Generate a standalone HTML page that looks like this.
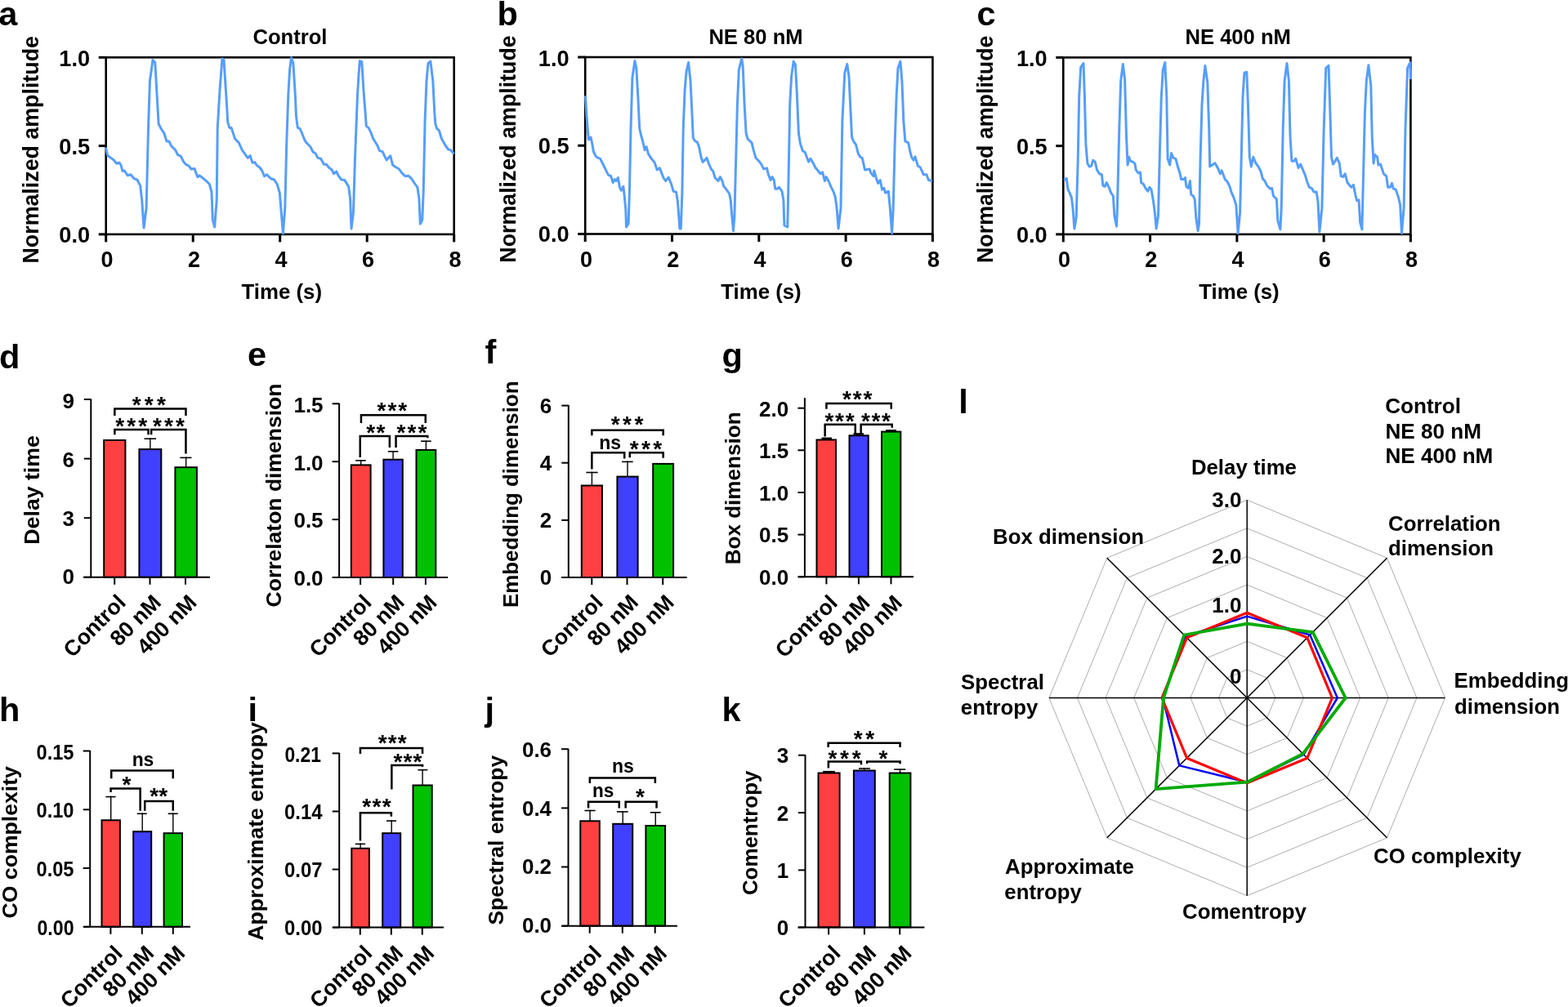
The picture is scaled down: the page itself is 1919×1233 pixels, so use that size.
<!DOCTYPE html>
<html><head><meta charset="utf-8"><title>Figure</title>
<style>html,body{margin:0;padding:0;background:#fff;overflow:hidden}svg{display:block}text{font-family:"Liberation Sans",sans-serif;font-weight:bold}</style>
</head><body>
<svg width="1919" height="1233" viewBox="0 0 1919 1233" font-family="'Liberation Sans', sans-serif" font-weight="bold" fill="#000">
<rect width="1919" height="1233" fill="#fff"/>
<text x="-1.7" y="31.4" font-size="41.5">a</text>
<text x="608.4" y="31" font-size="41.5">b</text>
<text x="1195.5" y="31.3" font-size="41.5">c</text>
<text x="-1.1" y="450.7" font-size="41.5">d</text>
<text x="303" y="447.9" font-size="41.5">e</text>
<text x="593.4" y="444.8" font-size="41.5">f</text>
<text x="883.6" y="449.1" font-size="41.5">g</text>
<text x="-1.1" y="882.7" font-size="41.5">h</text>
<text x="303.5" y="882.8" font-size="41.5">i</text>
<text x="593.4" y="882.6" font-size="41.5">j</text>
<text x="883.4" y="882.5" font-size="41.5">k</text>
<text x="1173.2" y="505.7" font-size="41.5">l</text>
<rect x="129.7" y="70.3" width="426" height="216.6" fill="none" stroke="#000" stroke-width="2.6"/>
<polyline points="129.3,180.7 131.8,190.5 135.7,193.4 139.6,196.3 142.5,200.2 146,199.2 148,202 149.9,209.5 152.3,209 156.2,214.8 160,213.8 164,218.7 167.8,220 171.7,227.4 173.7,245 176,279 179.1,254.7 181.5,157.4 183.4,98.9 185.4,85.3 186.9,73.6 189.8,76.5 192.2,118.4 194.1,151.5 197,157.4 200.9,163.2 203.9,172.9 206.8,172.9 209.7,178.8 214.6,183.6 217.5,189.5 221.4,191.4 224.3,197.3 227.2,201.2 231.1,203.1 234,207 237.9,206.4 241.8,216.7 244.2,214.8 247.7,217.7 252.5,221.6 256.4,225.5 259,235.2 260.3,269.3 262.7,278 265.2,245 266.2,157.4 269.1,108.7 272,71.7 274,73.6 276.9,118.4 278.8,149.6 280.8,156.4 283.1,156.4 287.6,170 292.4,174.9 296.3,183.6 303.2,193.4 306.1,190.5 309,199.2 311.9,198.6 313.9,202.1 317.8,205 320.7,209 323.6,215.8 326.5,213.8 331.4,218.7 335.3,219.7 339.2,225.5 342.3,236.2 346.4,285.9 348.8,254.7 350.7,176.8 352.7,118.4 354.6,85.3 356.5,70.7 358.9,77.5 361.4,118.4 362.4,141.8 364.3,156.4 366.9,157.4 369.2,162.2 373.1,172 376,175.8 379.9,179.7 383.2,186.2 385.8,187.5 389.1,193.4 392.6,194.3 396.5,201.2 399.4,201.2 402.3,205 406.2,208 408.5,212.8 411.7,209.9 414,214.8 417.9,220 421.8,220.6 426.6,228.4 428.6,243 430,280 432.5,259.6 434.4,196.3 437.4,118.4 438.9,93.1 440.3,74.6 442.8,75.6 445.1,112.6 447.1,137.9 448.3,154.4 451,156.4 453.9,162.2 456.8,170 461.7,177.8 464.6,184.6 468.1,185.6 473,195.9 477.8,190.8 480.6,202.1 484.1,204.5 488.4,207 491.9,211.9 495.8,215.8 499.7,215.2 503.5,218.7 507.4,224.5 510.9,229.4 512.9,243 514.3,274.2 516.8,269.3 518.2,235.2 520.1,147.6 522,98.9 524,77.5 526.9,75.2 529.8,98.9 531.8,137.9 532.8,151.5 534.7,157.4 537.6,160.3 540.5,170 544.4,176.8 548.3,182.7 551.3,183.6 555.7,188.5" fill="none" stroke="#569EFA" stroke-width="3" stroke-linejoin="round"/>
<line x1="120.7" y1="286.9" x2="129.7" y2="286.9" stroke="#000" stroke-width="3"/>
<text x="110.1" y="296.5" font-size="27.2" text-anchor="end">0.0</text>
<line x1="120.7" y1="178.6" x2="129.7" y2="178.6" stroke="#000" stroke-width="3"/>
<text x="110.1" y="188.7" font-size="27.2" text-anchor="end">0.5</text>
<line x1="120.7" y1="70.3" x2="129.7" y2="70.3" stroke="#000" stroke-width="3"/>
<text x="110.1" y="80.9" font-size="27.2" text-anchor="end">1.0</text>
<line x1="129.7" y1="286.9" x2="129.7" y2="296.4" stroke="#000" stroke-width="3"/>
<text x="130.9" y="327.1" font-size="27" text-anchor="middle">0</text>
<line x1="236.2" y1="286.9" x2="236.2" y2="296.4" stroke="#000" stroke-width="3"/>
<text x="237.4" y="327.1" font-size="27" text-anchor="middle">2</text>
<line x1="342.7" y1="286.9" x2="342.7" y2="296.4" stroke="#000" stroke-width="3"/>
<text x="343.9" y="327.1" font-size="27" text-anchor="middle">4</text>
<line x1="449.2" y1="286.9" x2="449.2" y2="296.4" stroke="#000" stroke-width="3"/>
<text x="450.4" y="327.1" font-size="27" text-anchor="middle">6</text>
<line x1="555.7" y1="286.9" x2="555.7" y2="296.4" stroke="#000" stroke-width="3"/>
<text x="556.9" y="327.1" font-size="27" text-anchor="middle">8</text>
<text x="355" y="54.3" font-size="25.6" text-anchor="middle">Control</text>
<text x="344.8" y="366" font-size="25.8" text-anchor="middle">Time (s)</text>
<text transform="translate(47 183.3) rotate(-90)" font-size="26.8" text-anchor="middle">Normalized amplitude</text>
<rect x="716.2" y="70" width="425.2" height="216.5" fill="none" stroke="#000" stroke-width="2.6"/>
<polyline points="716.5,117.4 717.9,141.7 719.5,161.2 720.4,170.9 723,168 724.9,176.8 726.3,185.5 729.2,191.4 731.1,192.9 734.6,194.3 738.9,203 741.8,208.9 744.4,214.1 747.7,215.7 750.2,223.5 752.2,219.6 754.1,221.5 756.4,217.6 758.4,229.3 760.3,233.2 762.9,228.3 764.2,240 765.8,256.5 766.5,277.9 769.1,274 770.4,235.1 772,157.3 773.9,95 776.9,74.6 778.8,83.4 780.8,118.4 782.7,157.3 784.6,166 786.6,172.9 789.1,183.6 791.1,179.7 793.4,188.4 797.3,194.3 801.2,199.1 804.1,207.9 807.4,205.9 811.9,217.6 814.8,221.5 818.1,217.2 821.6,225.4 824.1,234.2 827.5,235.1 829.4,246.8 831.9,279.9 833.3,279.9 834.9,235.1 836.2,157.3 838.2,108.6 840.1,87.2 842.6,76.5 845,98.9 846.9,137.8 848.3,169 850.8,172.9 853.3,173.8 855.7,180.6 858,192.3 860,198.5 862.5,196.2 865,193.3 867.3,200.1 870.3,206.9 872.8,209.8 875.1,217.6 879,221.5 881.4,216.6 883.9,221.5 885.8,228.3 887.8,230.3 889.7,233.2 892.6,237.1 894.2,244.9 895.6,262.4 897.5,282.8 898.9,264.3 900.4,205.9 902.4,128.1 904.3,85.3 907.8,71.7 909.2,81.4 911.1,128.1 913.1,163.1 915,170 918,172.9 920,174.8 921.9,182.6 924.9,193.3 928.8,197.2 931.7,201.1 934.6,206.9 938.5,205.9 940.4,213.7 943,220.5 944.9,216.6 947.2,220.5 948.8,231.2 951.1,231.2 953.5,229.3 957,234.2 958.9,244.9 959.9,276 963.8,277.9 965.1,215.7 966.7,128.1 968.6,93.1 971.2,75.2 973.5,79.5 975.5,118.4 977.4,163.1 979.4,175.8 982.3,184.5 985.2,186.5 988.1,194.3 989.7,198.2 992,194.3 995.9,201.1 997.8,205 1001.7,209.8 1004.1,212.8 1006.6,210.8 1009.5,221.5 1011.1,216.6 1014.4,222.5 1017.3,229.3 1020.2,235.1 1022.2,241 1024.1,254.6 1026.1,279.9 1029,254.6 1030.9,147.6 1033.8,89.2 1036.8,78.5 1039.1,95 1040.6,128.1 1042.6,168 1044.5,172.9 1047.5,176.8 1050.4,188.4 1052.9,192.3 1055.2,193.3 1058.5,207.9 1064,206.9 1065.9,211.8 1068.9,215.7 1069.8,208.9 1072.8,219.6 1074.7,224.4 1077.2,220.5 1079.6,232.2 1081.9,230.3 1083.5,236.1 1087.3,234.2 1089.3,254.6 1091.6,285.7 1093.2,254.6 1095.1,176.8 1097.1,118.4 1099,83.4 1101.9,75.2 1103.9,98.9 1105.8,147.6 1107.8,172.9 1111.7,174.8 1113.6,184.5 1115.6,192.3 1118.1,196.2 1120,191.9 1123.3,203 1126.3,205 1130.2,213.7 1134,213.7 1136.4,220.5 1140.9,221.5" fill="none" stroke="#569EFA" stroke-width="3" stroke-linejoin="round"/>
<line x1="707.2" y1="286.5" x2="716.2" y2="286.5" stroke="#000" stroke-width="3"/>
<text x="696.6" y="296.1" font-size="27.2" text-anchor="end">0.0</text>
<line x1="707.2" y1="178.25" x2="716.2" y2="178.25" stroke="#000" stroke-width="3"/>
<text x="696.6" y="188.35" font-size="27.2" text-anchor="end">0.5</text>
<line x1="707.2" y1="70" x2="716.2" y2="70" stroke="#000" stroke-width="3"/>
<text x="696.6" y="80.6" font-size="27.2" text-anchor="end">1.0</text>
<line x1="716.2" y1="286.5" x2="716.2" y2="296" stroke="#000" stroke-width="3"/>
<text x="717.4" y="327.1" font-size="27" text-anchor="middle">0</text>
<line x1="822.5" y1="286.5" x2="822.5" y2="296" stroke="#000" stroke-width="3"/>
<text x="823.7" y="327.1" font-size="27" text-anchor="middle">2</text>
<line x1="928.8" y1="286.5" x2="928.8" y2="296" stroke="#000" stroke-width="3"/>
<text x="930" y="327.1" font-size="27" text-anchor="middle">4</text>
<line x1="1035.1" y1="286.5" x2="1035.1" y2="296" stroke="#000" stroke-width="3"/>
<text x="1036.3" y="327.1" font-size="27" text-anchor="middle">6</text>
<line x1="1141.4" y1="286.5" x2="1141.4" y2="296" stroke="#000" stroke-width="3"/>
<text x="1142.6" y="327.1" font-size="27" text-anchor="middle">8</text>
<text x="925" y="54.3" font-size="25.6" text-anchor="middle">NE 80 nM</text>
<text x="931.5" y="366" font-size="25.8" text-anchor="middle">Time (s)</text>
<text transform="translate(630.8 182.5) rotate(-90)" font-size="26.8" text-anchor="middle">Normalized amplitude</text>
<rect x="1301.3" y="70.4" width="425.1" height="216.5" fill="none" stroke="#000" stroke-width="2.6"/>
<polyline points="1302.1,220.5 1305.2,218.6 1307.1,232.2 1309.1,236.1 1311.4,241.9 1313,254.6 1314.9,279.9 1317.2,266.3 1319.2,196.2 1320.7,118.4 1322.7,82.4 1326,77.5 1327.4,118.4 1328.9,176.8 1330.9,200.1 1333.2,204 1335.7,203 1337.7,196.2 1340.2,198.2 1342.5,207.9 1345.5,212.8 1348.4,213.7 1349.9,227.3 1352.3,228.3 1354.2,223.5 1357.1,229.3 1359.7,236.1 1362.4,240 1363.9,264.3 1366.5,277 1367.4,254.6 1369.8,157.3 1371.7,98.9 1374.3,78.5 1376.6,97 1378.5,167 1380.1,202 1381.8,192.3 1383.4,197.2 1386.3,198.2 1388.9,200.1 1390.2,207.9 1393.1,211.8 1395.5,210.8 1396.6,223.5 1399.4,225.4 1401.9,230.3 1404.8,234.2 1406.8,229.3 1409.1,232.2 1411.6,246.8 1413.6,262.4 1415.1,279.9 1417.5,264.3 1419.4,186.5 1421.3,118.4 1423.3,85.3 1425.8,76.5 1427.8,118.4 1429.1,194.3 1431.7,202 1433.6,187.5 1435.9,193.3 1438.9,194.3 1441.4,204 1443.7,210.8 1445.7,219.6 1448.6,219.6 1450.5,217.6 1451.9,228.3 1454.4,230.3 1456.4,221.5 1457.7,238.1 1460.3,240 1462.2,243.9 1463.8,266.3 1466.1,282.8 1467.5,274 1469,196.2 1471,128.1 1472.9,98.9 1474.9,80.4 1477.8,100.9 1479.7,157.3 1480.7,204 1483.6,202 1486.9,199.7 1489.5,204 1491.4,207.9 1493.3,212.8 1495.3,208.9 1499.2,219.6 1502.1,222.5 1505,228.3 1506.9,235.1 1509.9,241.9 1512.8,250.7 1515.1,285.7 1517.6,260.4 1519.6,176.8 1521,118.4 1522.9,89.2 1525.8,88.2 1527.4,128.1 1529.3,192.3 1531.3,204 1533.8,192.3 1537.1,200.1 1540,204 1543,209.8 1545.3,218.6 1547.8,221.5 1550.7,227.3 1554.6,231.2 1556.6,230.3 1558.5,240 1562.4,243.9 1563.8,270.2 1566.9,280.9 1568.2,254.6 1570.2,157.3 1572.1,98.9 1575,77.5 1577.4,98.9 1579,167 1580.9,197.2 1583.8,197.2 1585.8,194.3 1589.1,205.6 1591.6,201.1 1594.5,207.9 1597.4,214.7 1599.4,221.5 1602.3,229.3 1605.2,230.3 1608.1,235.1 1611.1,235.1 1613,246.8 1614.9,283.8 1617.9,254.6 1620.2,157.3 1622.7,83.4 1626,80.4 1627.6,128.1 1629.5,192.3 1631.5,201.1 1633.4,198.2 1636.3,193.3 1639.3,200.1 1641.2,215.7 1643.6,216.6 1646.1,212.8 1649,223.5 1651.3,226.4 1653.9,229.3 1656.4,226.4 1658.7,238 1660.7,245.8 1663,244.9 1664.6,272.1 1666.9,280.9 1668.5,215.7 1670.4,137.8 1672.3,98.9 1674.9,79.8 1677.8,104.8 1679.2,167 1681.1,200.1 1682.5,189.4 1685.6,192.3 1686.9,202 1689.5,201.1 1691.8,207.9 1693.4,212.8 1696.7,215.7 1698.6,229.3 1701.5,229.3 1703.5,224.4 1705.4,231.2 1708.3,232.2 1711.3,241 1713.6,250.7 1715.5,285.7 1718.1,254.6 1720,157.3 1722.6,83.4 1725.9,76.5 1726.4,97" fill="none" stroke="#569EFA" stroke-width="3" stroke-linejoin="round"/>
<line x1="1292.3" y1="286.9" x2="1301.3" y2="286.9" stroke="#000" stroke-width="3"/>
<text x="1281.7" y="296.5" font-size="27.2" text-anchor="end">0.0</text>
<line x1="1292.3" y1="178.65" x2="1301.3" y2="178.65" stroke="#000" stroke-width="3"/>
<text x="1281.7" y="188.75" font-size="27.2" text-anchor="end">0.5</text>
<line x1="1292.3" y1="70.4" x2="1301.3" y2="70.4" stroke="#000" stroke-width="3"/>
<text x="1281.7" y="81" font-size="27.2" text-anchor="end">1.0</text>
<line x1="1301.3" y1="286.9" x2="1301.3" y2="296.4" stroke="#000" stroke-width="3"/>
<text x="1302.5" y="327.1" font-size="27" text-anchor="middle">0</text>
<line x1="1407.58" y1="286.9" x2="1407.58" y2="296.4" stroke="#000" stroke-width="3"/>
<text x="1408.78" y="327.1" font-size="27" text-anchor="middle">2</text>
<line x1="1513.85" y1="286.9" x2="1513.85" y2="296.4" stroke="#000" stroke-width="3"/>
<text x="1515.05" y="327.1" font-size="27" text-anchor="middle">4</text>
<line x1="1620.12" y1="286.9" x2="1620.12" y2="296.4" stroke="#000" stroke-width="3"/>
<text x="1621.33" y="327.1" font-size="27" text-anchor="middle">6</text>
<line x1="1726.4" y1="286.9" x2="1726.4" y2="296.4" stroke="#000" stroke-width="3"/>
<text x="1727.6" y="327.1" font-size="27" text-anchor="middle">8</text>
<text x="1515.2" y="54.3" font-size="25.6" text-anchor="middle">NE 400 nM</text>
<text x="1516.5" y="366" font-size="25.8" text-anchor="middle">Time (s)</text>
<text transform="translate(1215.3 182.8) rotate(-90)" font-size="26.8" text-anchor="middle">Normalized amplitude</text>
<rect x="127.2" y="539" width="26.2" height="167.8" fill="#FF4040" stroke="#000" stroke-width="2"/>
<rect x="170.4" y="550.1" width="26.9" height="156.7" fill="#4040FF" stroke="#000" stroke-width="2"/>
<rect x="214.4" y="572.2" width="26.5" height="134.6" fill="#00C000" stroke="#000" stroke-width="2"/>
<line x1="183.85" y1="550.1" x2="183.85" y2="536.4" stroke="#000" stroke-width="1.4"/>
<line x1="176.5" y1="537.2" x2="191" y2="537.2" stroke="#000" stroke-width="1.6"/>
<line x1="227.65" y1="572.2" x2="227.65" y2="559.6" stroke="#000" stroke-width="1.4"/>
<line x1="220.3" y1="560.4" x2="234.5" y2="560.4" stroke="#000" stroke-width="1.6"/>
<line x1="111.3" y1="488.5" x2="111.3" y2="706.8" stroke="#000" stroke-width="2"/>
<line x1="102" y1="706.8" x2="257" y2="706.8" stroke="#000" stroke-width="2"/>
<line x1="102.8" y1="489" x2="111.3" y2="489" stroke="#000" stroke-width="2"/>
<text x="91" y="500.45" font-size="26" text-anchor="end">9</text>
<line x1="102.8" y1="561.6" x2="111.3" y2="561.6" stroke="#000" stroke-width="2"/>
<text x="91" y="572.45" font-size="26" text-anchor="end">6</text>
<line x1="102.8" y1="634.2" x2="111.3" y2="634.2" stroke="#000" stroke-width="2"/>
<text x="91" y="643.9" font-size="26" text-anchor="end">3</text>
<line x1="102.8" y1="706.8" x2="111.3" y2="706.8" stroke="#000" stroke-width="2"/>
<text x="91" y="715.3" font-size="26" text-anchor="end">0</text>
<line x1="140.2" y1="706.8" x2="140.2" y2="715.8" stroke="#000" stroke-width="2"/>
<line x1="183.5" y1="706.8" x2="183.5" y2="715.8" stroke="#000" stroke-width="2"/>
<line x1="227" y1="706.8" x2="227" y2="715.8" stroke="#000" stroke-width="2"/>
<text transform="translate(155.4 739.3) rotate(-45)" font-size="26.6" text-anchor="end">Control</text>
<text transform="translate(198.7 739.3) rotate(-45)" font-size="26.6" text-anchor="end">80 nM</text>
<text transform="translate(242.2 739.3) rotate(-45)" font-size="26.6" text-anchor="end">400 nM</text>
<polyline points="140.35,509 140.35,500.5 227.45,500.5 227.45,509" fill="none" stroke="#000" stroke-width="2.5" stroke-linejoin="miter"/>
<polyline points="140.35,532.2 140.35,526 181.55,526 181.55,532.2" fill="none" stroke="#000" stroke-width="2.5" stroke-linejoin="miter"/>
<polyline points="185.15,532.2 185.15,526 227.45,526 227.45,555.4" fill="none" stroke="#000" stroke-width="2.5" stroke-linejoin="miter"/>
<text x="161.7" y="505.08" font-size="28" letter-spacing="4.25">***</text>
<text x="141.2" y="531.38" font-size="28" letter-spacing="3.15">***</text>
<text x="187" y="531.38" font-size="28" letter-spacing="3.15">***</text>
<text transform="translate(47.9 599.9) rotate(-90)" font-size="26.7" text-anchor="middle">Delay time</text>
<rect x="429.8" y="569.4" width="23.8" height="137.6" fill="#FF4040" stroke="#000" stroke-width="2"/>
<rect x="469.4" y="562.7" width="23.4" height="144.3" fill="#4040FF" stroke="#000" stroke-width="2"/>
<rect x="509.5" y="550.9" width="23.8" height="156.1" fill="#00C000" stroke="#000" stroke-width="2"/>
<line x1="441.7" y1="569.4" x2="441.7" y2="563.1" stroke="#000" stroke-width="1.4"/>
<line x1="435.2" y1="563.9" x2="447.8" y2="563.9" stroke="#000" stroke-width="1.6"/>
<line x1="481.1" y1="562.7" x2="481.1" y2="552" stroke="#000" stroke-width="1.4"/>
<line x1="474.8" y1="552.8" x2="487.4" y2="552.8" stroke="#000" stroke-width="1.6"/>
<line x1="521.4" y1="550.9" x2="521.4" y2="539.4" stroke="#000" stroke-width="1.4"/>
<line x1="515.1" y1="540.2" x2="527.7" y2="540.2" stroke="#000" stroke-width="1.6"/>
<line x1="415.1" y1="493.8" x2="415.1" y2="707" stroke="#000" stroke-width="2"/>
<line x1="407.1" y1="707" x2="548.1" y2="707" stroke="#000" stroke-width="2"/>
<line x1="406.6" y1="494.3" x2="415.1" y2="494.3" stroke="#000" stroke-width="2"/>
<text x="395.6" y="505.45" font-size="26" text-anchor="end">1.5</text>
<line x1="406.6" y1="565.2" x2="415.1" y2="565.2" stroke="#000" stroke-width="2"/>
<text x="395.6" y="575.9" font-size="26" text-anchor="end">1.0</text>
<line x1="406.6" y1="636.1" x2="415.1" y2="636.1" stroke="#000" stroke-width="2"/>
<text x="395.6" y="646.4" font-size="26" text-anchor="end">0.5</text>
<line x1="406.6" y1="707" x2="415.1" y2="707" stroke="#000" stroke-width="2"/>
<text x="395.6" y="716.9" font-size="26" text-anchor="end">0.0</text>
<line x1="441.1" y1="707" x2="441.1" y2="716" stroke="#000" stroke-width="2"/>
<line x1="481.2" y1="707" x2="481.2" y2="716" stroke="#000" stroke-width="2"/>
<line x1="520.9" y1="707" x2="520.9" y2="716" stroke="#000" stroke-width="2"/>
<text transform="translate(456.3 739.2) rotate(-45)" font-size="26.6" text-anchor="end">Control</text>
<text transform="translate(496.4 739.2) rotate(-45)" font-size="26.6" text-anchor="end">80 nM</text>
<text transform="translate(536.1 739.2) rotate(-45)" font-size="26.6" text-anchor="end">400 nM</text>
<polyline points="441.95,518.1 441.95,508.2 520.75,508.2 520.75,518.1" fill="none" stroke="#000" stroke-width="2.5" stroke-linejoin="miter"/>
<polyline points="440.75,560 440.75,534 476.85,534 476.85,548" fill="none" stroke="#000" stroke-width="2.5" stroke-linejoin="miter"/>
<polyline points="484.55,548 484.55,534 523.35,534 523.35,536.3" fill="none" stroke="#000" stroke-width="2.5" stroke-linejoin="miter"/>
<text x="461.5" y="511.68" font-size="28" letter-spacing="2">***</text>
<text x="448.3" y="538.88" font-size="28" letter-spacing="1.19">**</text>
<text x="485.6" y="538.88" font-size="28" letter-spacing="2">***</text>
<text transform="translate(343.5 606.5) rotate(-90)" font-size="26.5" text-anchor="middle">Correlaton dimension</text>
<rect x="711.8" y="594.5" width="25.2" height="112.5" fill="#FF4040" stroke="#000" stroke-width="2"/>
<rect x="755.4" y="583.6" width="25.2" height="123.4" fill="#4040FF" stroke="#000" stroke-width="2"/>
<rect x="799.2" y="567.9" width="24.9" height="139.1" fill="#00C000" stroke="#000" stroke-width="2"/>
<line x1="724.4" y1="594.5" x2="724.4" y2="577.7" stroke="#000" stroke-width="1.4"/>
<line x1="717.4" y1="578.5" x2="731.7" y2="578.5" stroke="#000" stroke-width="1.6"/>
<line x1="768" y1="583.6" x2="768" y2="564.6" stroke="#000" stroke-width="1.4"/>
<line x1="761" y1="565.4" x2="774.7" y2="565.4" stroke="#000" stroke-width="1.6"/>
<line x1="695.8" y1="496.1" x2="695.8" y2="707" stroke="#000" stroke-width="2"/>
<line x1="687" y1="707" x2="840.6" y2="707" stroke="#000" stroke-width="2"/>
<line x1="687.3" y1="496.6" x2="695.8" y2="496.6" stroke="#000" stroke-width="2"/>
<text x="675.3" y="506.2" font-size="26" text-anchor="end">6</text>
<line x1="687.3" y1="566.7" x2="695.8" y2="566.7" stroke="#000" stroke-width="2"/>
<text x="675.3" y="576" font-size="26" text-anchor="end">4</text>
<line x1="687.3" y1="636.9" x2="695.8" y2="636.9" stroke="#000" stroke-width="2"/>
<text x="675.3" y="646" font-size="26" text-anchor="end">2</text>
<line x1="687.3" y1="707" x2="695.8" y2="707" stroke="#000" stroke-width="2"/>
<text x="675.3" y="715.8" font-size="26" text-anchor="end">0</text>
<line x1="724.3" y1="707" x2="724.3" y2="716" stroke="#000" stroke-width="2"/>
<line x1="767.5" y1="707" x2="767.5" y2="716" stroke="#000" stroke-width="2"/>
<line x1="811.2" y1="707" x2="811.2" y2="716" stroke="#000" stroke-width="2"/>
<text transform="translate(739.5 739.2) rotate(-45)" font-size="26.6" text-anchor="end">Control</text>
<text transform="translate(782.7 739.2) rotate(-45)" font-size="26.6" text-anchor="end">80 nM</text>
<text transform="translate(826.4 739.2) rotate(-45)" font-size="26.6" text-anchor="end">400 nM</text>
<polyline points="724.35,533.3 724.35,526.8 811.65,526.8 811.65,533.3" fill="none" stroke="#000" stroke-width="2.5" stroke-linejoin="miter"/>
<polyline points="724.35,574.6 724.35,554.2 764.25,554.2 764.25,561.4" fill="none" stroke="#000" stroke-width="2.5" stroke-linejoin="miter"/>
<polyline points="770.75,560.2 770.75,554.2 811.65,554.2 811.65,560.8" fill="none" stroke="#000" stroke-width="2.5" stroke-linejoin="miter"/>
<text x="747.8" y="528.78" font-size="28" letter-spacing="3.4">***</text>
<text x="733.22" y="549.9" font-size="24.5" textLength="26.83" lengthAdjust="spacingAndGlyphs">ns</text>
<text x="770.7" y="558.58" font-size="28" letter-spacing="3.4">***</text>
<text transform="translate(634.2 605.3) rotate(-90)" font-size="25.9" text-anchor="middle">Embedding dimension</text>
<rect x="999.5" y="538.5" width="23.5" height="167.8" fill="#FF4040" stroke="#000" stroke-width="2"/>
<rect x="1039.5" y="533.3" width="23.2" height="173" fill="#4040FF" stroke="#000" stroke-width="2"/>
<rect x="1079" y="528.6" width="23.3" height="177.7" fill="#00C000" stroke="#000" stroke-width="2"/>
<rect x="1005.5" y="535.6" width="12.5" height="2.4" fill="#000"/>
<rect x="1044.5" y="530.2" width="12.5" height="2.6" fill="#000"/>
<rect x="1084.1" y="526.1" width="12.9" height="2" fill="#000"/>
<line x1="984.9" y1="487.2" x2="984.9" y2="706.3" stroke="#000" stroke-width="2"/>
<line x1="977.1" y1="706.3" x2="1118.1" y2="706.3" stroke="#000" stroke-width="2"/>
<line x1="976.4" y1="499.7" x2="984.9" y2="499.7" stroke="#000" stroke-width="2"/>
<text x="965.2" y="509.5" font-size="26" text-anchor="end">2.0</text>
<line x1="976.4" y1="551.3" x2="984.9" y2="551.3" stroke="#000" stroke-width="2"/>
<text x="965.2" y="560.95" font-size="26" text-anchor="end">1.5</text>
<line x1="976.4" y1="603" x2="984.9" y2="603" stroke="#000" stroke-width="2"/>
<text x="965.2" y="612.5" font-size="26" text-anchor="end">1.0</text>
<line x1="976.4" y1="654.6" x2="984.9" y2="654.6" stroke="#000" stroke-width="2"/>
<text x="965.2" y="664" font-size="26" text-anchor="end">0.5</text>
<line x1="976.4" y1="706.3" x2="984.9" y2="706.3" stroke="#000" stroke-width="2"/>
<text x="965.2" y="715.55" font-size="26" text-anchor="end">0.0</text>
<line x1="1011.4" y1="706.3" x2="1011.4" y2="715.3" stroke="#000" stroke-width="2"/>
<line x1="1050.9" y1="706.3" x2="1050.9" y2="715.3" stroke="#000" stroke-width="2"/>
<line x1="1090.5" y1="706.3" x2="1090.5" y2="715.3" stroke="#000" stroke-width="2"/>
<text transform="translate(1026.6 739.8) rotate(-45)" font-size="26.6" text-anchor="end">Control</text>
<text transform="translate(1066.1 739.8) rotate(-45)" font-size="26.6" text-anchor="end">80 nM</text>
<text transform="translate(1105.7 739.8) rotate(-45)" font-size="26.6" text-anchor="end">400 nM</text>
<polyline points="1011.45,500.7 1011.45,493.9 1090.75,493.9 1090.75,500.7" fill="none" stroke="#000" stroke-width="2.5" stroke-linejoin="miter"/>
<polyline points="1009.65,534.6 1009.65,519.8 1046.75,519.8 1046.75,531.5" fill="none" stroke="#000" stroke-width="2.5" stroke-linejoin="miter"/>
<polyline points="1053.65,531.5 1053.65,519.8 1091.75,519.8 1091.75,523.7" fill="none" stroke="#000" stroke-width="2.5" stroke-linejoin="miter"/>
<text x="1031" y="497.98" font-size="28" letter-spacing="1.9">***</text>
<text x="1009.4" y="524.58" font-size="28" letter-spacing="1.75">***</text>
<text x="1053.9" y="524.58" font-size="28" letter-spacing="1.65">***</text>
<text transform="translate(906.4 597.85) rotate(-90)" font-size="26.1" text-anchor="middle">Box dimension</text>
<rect x="124.5" y="1004.3" width="22.4" height="130.5" fill="#FF4040" stroke="#000" stroke-width="2"/>
<rect x="163.2" y="1018.2" width="22" height="116.6" fill="#4040FF" stroke="#000" stroke-width="2"/>
<rect x="200.6" y="1020.2" width="22.4" height="114.6" fill="#00C000" stroke="#000" stroke-width="2"/>
<line x1="135.7" y1="1004.3" x2="135.7" y2="974.8" stroke="#000" stroke-width="1.4"/>
<line x1="129.4" y1="975.6" x2="141.6" y2="975.6" stroke="#000" stroke-width="1.6"/>
<line x1="174.2" y1="1018.2" x2="174.2" y2="995.5" stroke="#000" stroke-width="1.4"/>
<line x1="167.7" y1="996.3" x2="179.7" y2="996.3" stroke="#000" stroke-width="1.6"/>
<line x1="211.8" y1="1020.2" x2="211.8" y2="995.5" stroke="#000" stroke-width="1.4"/>
<line x1="205.7" y1="996.3" x2="217.7" y2="996.3" stroke="#000" stroke-width="1.6"/>
<line x1="110.2" y1="919" x2="110.2" y2="1134.8" stroke="#000" stroke-width="2"/>
<line x1="102.9" y1="1134.8" x2="232.9" y2="1134.8" stroke="#000" stroke-width="2"/>
<line x1="101.7" y1="919.5" x2="110.2" y2="919.5" stroke="#000" stroke-width="2"/>
<text x="90.5" y="930.15" font-size="26" text-anchor="end" textLength="46" lengthAdjust="spacingAndGlyphs">0.15</text>
<line x1="101.7" y1="991.3" x2="110.2" y2="991.3" stroke="#000" stroke-width="2"/>
<text x="90.5" y="1001.1" font-size="26" text-anchor="end" textLength="46" lengthAdjust="spacingAndGlyphs">0.10</text>
<line x1="101.7" y1="1063" x2="110.2" y2="1063" stroke="#000" stroke-width="2"/>
<text x="90.5" y="1073.2" font-size="26" text-anchor="end" textLength="46" lengthAdjust="spacingAndGlyphs">0.05</text>
<line x1="101.7" y1="1134.8" x2="110.2" y2="1134.8" stroke="#000" stroke-width="2"/>
<text x="90.5" y="1145.4" font-size="26" text-anchor="end" textLength="45" lengthAdjust="spacingAndGlyphs">0.00</text>
<line x1="135.4" y1="1134.8" x2="135.4" y2="1143.8" stroke="#000" stroke-width="2"/>
<line x1="173.8" y1="1134.8" x2="173.8" y2="1143.8" stroke="#000" stroke-width="2"/>
<line x1="211.8" y1="1134.8" x2="211.8" y2="1143.8" stroke="#000" stroke-width="2"/>
<text transform="translate(151.5 1168.9) rotate(-45)" font-size="26.6" text-anchor="end">Control</text>
<text transform="translate(189.9 1168.9) rotate(-45)" font-size="26.6" text-anchor="end">80 nM</text>
<text transform="translate(227.9 1168.9) rotate(-45)" font-size="26.6" text-anchor="end">400 nM</text>
<polyline points="136.25,953.2 136.25,943.5 211.75,943.5 211.75,953.2" fill="none" stroke="#000" stroke-width="2.5" stroke-linejoin="miter"/>
<polyline points="135.55,970 135.55,965.4 171.65,965.4 171.65,992.8" fill="none" stroke="#000" stroke-width="2.5" stroke-linejoin="miter"/>
<polyline points="177.25,992.8 177.25,981 211.75,981 211.75,992.8" fill="none" stroke="#000" stroke-width="2.5" stroke-linejoin="miter"/>
<text x="161.63" y="938" font-size="24.5" textLength="26.72" lengthAdjust="spacingAndGlyphs">ns</text>
<text x="149.4" y="969.68" font-size="28" letter-spacing="0">*</text>
<text x="183.3" y="984.28" font-size="28" letter-spacing="0.09">**</text>
<text transform="translate(20.6 1031.3) rotate(-90)" font-size="26.6" text-anchor="middle">CO complexity</text>
<rect x="430.3" y="1038.8" width="21.6" height="96.8" fill="#FF4040" stroke="#000" stroke-width="2"/>
<rect x="468.2" y="1020.2" width="22" height="115.4" fill="#4040FF" stroke="#000" stroke-width="2"/>
<rect x="505.5" y="961.5" width="23.2" height="174.1" fill="#00C000" stroke="#000" stroke-width="2"/>
<line x1="441.1" y1="1038.8" x2="441.1" y2="1032.6" stroke="#000" stroke-width="1.4"/>
<line x1="434.7" y1="1033.4" x2="447.1" y2="1033.4" stroke="#000" stroke-width="1.6"/>
<line x1="479.2" y1="1020.2" x2="479.2" y2="1004.3" stroke="#000" stroke-width="1.4"/>
<line x1="473" y1="1005.1" x2="485" y2="1005.1" stroke="#000" stroke-width="1.6"/>
<line x1="517.1" y1="961.5" x2="517.1" y2="941.9" stroke="#000" stroke-width="1.4"/>
<line x1="511.4" y1="942.7" x2="523.4" y2="942.7" stroke="#000" stroke-width="1.6"/>
<line x1="415.2" y1="921.9" x2="415.2" y2="1135.6" stroke="#000" stroke-width="2"/>
<line x1="407.5" y1="1135.6" x2="543.1" y2="1135.6" stroke="#000" stroke-width="2"/>
<line x1="406.7" y1="922.4" x2="415.2" y2="922.4" stroke="#000" stroke-width="2"/>
<text x="392.9" y="933.05" font-size="26" text-anchor="end" textLength="44.5" lengthAdjust="spacingAndGlyphs">0.21</text>
<line x1="406.7" y1="993.5" x2="415.2" y2="993.5" stroke="#000" stroke-width="2"/>
<text x="394.5" y="1003.35" font-size="26" text-anchor="end" textLength="46.5" lengthAdjust="spacingAndGlyphs">0.14</text>
<line x1="406.7" y1="1064.5" x2="415.2" y2="1064.5" stroke="#000" stroke-width="2"/>
<text x="394.5" y="1074.15" font-size="26" text-anchor="end" textLength="46.5" lengthAdjust="spacingAndGlyphs">0.07</text>
<line x1="406.7" y1="1135.6" x2="415.2" y2="1135.6" stroke="#000" stroke-width="2"/>
<text x="394.5" y="1145.05" font-size="26" text-anchor="end" textLength="46.5" lengthAdjust="spacingAndGlyphs">0.00</text>
<line x1="440.8" y1="1135.6" x2="440.8" y2="1144.6" stroke="#000" stroke-width="2"/>
<line x1="478.8" y1="1135.6" x2="478.8" y2="1144.6" stroke="#000" stroke-width="2"/>
<line x1="516.8" y1="1135.6" x2="516.8" y2="1144.6" stroke="#000" stroke-width="2"/>
<text transform="translate(456.9 1168.8) rotate(-45)" font-size="26.6" text-anchor="end">Control</text>
<text transform="translate(494.9 1168.8) rotate(-45)" font-size="26.6" text-anchor="end">80 nM</text>
<text transform="translate(532.9 1168.8) rotate(-45)" font-size="26.6" text-anchor="end">400 nM</text>
<polyline points="440.95,923 440.95,916 517.05,916 517.05,923" fill="none" stroke="#000" stroke-width="2.5" stroke-linejoin="miter"/>
<polyline points="479.35,966.6 479.35,937 517.05,937 517.05,939" fill="none" stroke="#000" stroke-width="2.5" stroke-linejoin="miter"/>
<polyline points="440.95,1029.6 440.95,995.2 478.85,995.2 478.85,999.8" fill="none" stroke="#000" stroke-width="2.5" stroke-linejoin="miter"/>
<text x="462.7" y="919.08" font-size="28" letter-spacing="1.1">***</text>
<text x="481.6" y="941.98" font-size="28" letter-spacing="1.1">***</text>
<text x="443.2" y="996.98" font-size="28" letter-spacing="1.4">***</text>
<text transform="translate(322.4 1018) rotate(-90)" font-size="26.6" text-anchor="middle">Approximate entropy</text>
<rect x="710.3" y="1005.3" width="23.5" height="128.4" fill="#FF4040" stroke="#000" stroke-width="2"/>
<rect x="750.2" y="1008.8" width="24" height="124.9" fill="#4040FF" stroke="#000" stroke-width="2"/>
<rect x="790.4" y="1011" width="23.7" height="122.7" fill="#00C000" stroke="#000" stroke-width="2"/>
<line x1="722.05" y1="1005.3" x2="722.05" y2="991.7" stroke="#000" stroke-width="1.4"/>
<line x1="715.4" y1="992.5" x2="728.6" y2="992.5" stroke="#000" stroke-width="1.6"/>
<line x1="762.2" y1="1008.8" x2="762.2" y2="993.1" stroke="#000" stroke-width="1.4"/>
<line x1="755" y1="993.9" x2="768.7" y2="993.9" stroke="#000" stroke-width="1.6"/>
<line x1="802.25" y1="1011" x2="802.25" y2="994" stroke="#000" stroke-width="1.4"/>
<line x1="795.7" y1="994.8" x2="808.6" y2="994.8" stroke="#000" stroke-width="1.6"/>
<line x1="695.5" y1="916.7" x2="695.5" y2="1133.7" stroke="#000" stroke-width="2"/>
<line x1="687.9" y1="1133.7" x2="828.9" y2="1133.7" stroke="#000" stroke-width="2"/>
<line x1="687" y1="917.2" x2="695.5" y2="917.2" stroke="#000" stroke-width="2"/>
<text x="675.1" y="927.35" font-size="26" text-anchor="end">0.6</text>
<line x1="687" y1="989.4" x2="695.5" y2="989.4" stroke="#000" stroke-width="2"/>
<text x="675.1" y="998.9" font-size="26" text-anchor="end">0.4</text>
<line x1="687" y1="1061.5" x2="695.5" y2="1061.5" stroke="#000" stroke-width="2"/>
<text x="675.1" y="1070.4" font-size="26" text-anchor="end">0.2</text>
<line x1="687" y1="1133.7" x2="695.5" y2="1133.7" stroke="#000" stroke-width="2"/>
<text x="675.1" y="1141.95" font-size="26" text-anchor="end">0.0</text>
<line x1="721.7" y1="1133.7" x2="721.7" y2="1142.7" stroke="#000" stroke-width="2"/>
<line x1="761.8" y1="1133.7" x2="761.8" y2="1142.7" stroke="#000" stroke-width="2"/>
<line x1="801.7" y1="1133.7" x2="801.7" y2="1142.7" stroke="#000" stroke-width="2"/>
<text transform="translate(737.8 1169) rotate(-45)" font-size="26.6" text-anchor="end">Control</text>
<text transform="translate(777.9 1169) rotate(-45)" font-size="26.6" text-anchor="end">80 nM</text>
<text transform="translate(817.8 1169) rotate(-45)" font-size="26.6" text-anchor="end">400 nM</text>
<polyline points="721.85,959 721.85,952.6 801.85,952.6 801.85,959" fill="none" stroke="#000" stroke-width="2.5" stroke-linejoin="miter"/>
<polyline points="720.05,989.4 720.05,981.8 757.75,981.8 757.75,989.4" fill="none" stroke="#000" stroke-width="2.5" stroke-linejoin="miter"/>
<polyline points="765.65,989.4 765.65,981.8 803.55,981.8 803.55,989.4" fill="none" stroke="#000" stroke-width="2.5" stroke-linejoin="miter"/>
<text x="749.02" y="946.4" font-size="24.5" textLength="26.83" lengthAdjust="spacingAndGlyphs">ns</text>
<text x="724.95" y="976.2" font-size="24.5" textLength="26.28" lengthAdjust="spacingAndGlyphs">ns</text>
<text x="777.9" y="985.48" font-size="28" letter-spacing="0">*</text>
<text transform="translate(615.6 1028.7) rotate(-90)" font-size="26.3" text-anchor="middle">Spectral entropy</text>
<rect x="1001.5" y="946.5" width="26.1" height="188.9" fill="#FF4040" stroke="#000" stroke-width="2"/>
<rect x="1044.9" y="943.5" width="25.9" height="191.9" fill="#4040FF" stroke="#000" stroke-width="2"/>
<rect x="1088.7" y="946.5" width="25.7" height="188.9" fill="#00C000" stroke="#000" stroke-width="2"/>
<rect x="1007.2" y="943.9" width="14.6" height="2.1" fill="#000"/>
<line x1="1057.85" y1="943.5" x2="1057.85" y2="940.2" stroke="#000" stroke-width="1.4"/>
<line x1="1051" y1="941" x2="1064.9" y2="941" stroke="#000" stroke-width="1.6"/>
<line x1="1101.55" y1="946.5" x2="1101.55" y2="941.3" stroke="#000" stroke-width="1.4"/>
<line x1="1094.2" y1="942.1" x2="1108.3" y2="942.1" stroke="#000" stroke-width="1.6"/>
<line x1="985.5" y1="924.2" x2="985.5" y2="1135.4" stroke="#000" stroke-width="2"/>
<line x1="976.5" y1="1135.4" x2="1131.4" y2="1135.4" stroke="#000" stroke-width="2"/>
<line x1="977" y1="924.7" x2="985.5" y2="924.7" stroke="#000" stroke-width="2"/>
<text x="965.3" y="934.1" font-size="26" text-anchor="end">3</text>
<line x1="977" y1="995.1" x2="985.5" y2="995.1" stroke="#000" stroke-width="2"/>
<text x="965.3" y="1004.6" font-size="26" text-anchor="end">2</text>
<line x1="977" y1="1065.4" x2="985.5" y2="1065.4" stroke="#000" stroke-width="2"/>
<text x="965.3" y="1074.95" font-size="26" text-anchor="end">1</text>
<line x1="977" y1="1135.4" x2="985.5" y2="1135.4" stroke="#000" stroke-width="2"/>
<text x="965.3" y="1145" font-size="26" text-anchor="end">0</text>
<line x1="1014.1" y1="1135.4" x2="1014.1" y2="1144.4" stroke="#000" stroke-width="2"/>
<line x1="1057.9" y1="1135.4" x2="1057.9" y2="1144.4" stroke="#000" stroke-width="2"/>
<line x1="1101.2" y1="1135.4" x2="1101.2" y2="1144.4" stroke="#000" stroke-width="2"/>
<text transform="translate(1030.2 1168.7) rotate(-45)" font-size="26.6" text-anchor="end">Control</text>
<text transform="translate(1074 1168.7) rotate(-45)" font-size="26.6" text-anchor="end">80 nM</text>
<text transform="translate(1117.3 1168.7) rotate(-45)" font-size="26.6" text-anchor="end">400 nM</text>
<polyline points="1013.65,914.9 1013.65,909.8 1101.55,909.8 1101.55,914.9" fill="none" stroke="#000" stroke-width="2.5" stroke-linejoin="miter"/>
<polyline points="1013.85,940.4 1013.85,932.4 1053.95,932.4 1053.95,936.3" fill="none" stroke="#000" stroke-width="2.5" stroke-linejoin="miter"/>
<polyline points="1061.15,935 1061.15,932.4 1101.55,932.4 1101.55,935.2" fill="none" stroke="#000" stroke-width="2.5" stroke-linejoin="miter"/>
<text x="1044.7" y="914.18" font-size="28" letter-spacing="3.79">**</text>
<text x="1013.5" y="938.48" font-size="28" letter-spacing="3.7">***</text>
<text x="1075.5" y="938.48" font-size="28" letter-spacing="0">*</text>
<text transform="translate(926.6 1019.85) rotate(-90)" font-size="25.9" text-anchor="middle">Comentropy</text>
<polygon points="1526.2,819.89 1550.68,830.02 1560.81,854.5 1550.68,878.98 1526.2,889.11 1501.72,878.98 1491.59,854.5 1501.72,830.02" fill="none" stroke="#ADADAD" stroke-width="1" stroke-linejoin="round"/>
<polygon points="1526.2,785.27 1575.15,805.55 1595.43,854.5 1575.15,903.45 1526.2,923.73 1477.25,903.45 1456.97,854.5 1477.25,805.55" fill="none" stroke="#ADADAD" stroke-width="1" stroke-linejoin="round"/>
<polygon points="1526.2,750.66 1599.63,781.07 1630.04,854.5 1599.63,927.93 1526.2,958.34 1452.77,927.93 1422.36,854.5 1452.77,781.07" fill="none" stroke="#ADADAD" stroke-width="1" stroke-linejoin="round"/>
<polygon points="1526.2,716.04 1624.1,756.6 1664.66,854.5 1624.1,952.4 1526.2,992.96 1428.3,952.4 1387.74,854.5 1428.3,756.6" fill="none" stroke="#ADADAD" stroke-width="1" stroke-linejoin="round"/>
<polygon points="1526.2,681.43 1648.58,732.12 1699.27,854.5 1648.58,976.88 1526.2,1027.57 1403.82,976.88 1353.13,854.5 1403.82,732.12" fill="none" stroke="#ADADAD" stroke-width="1" stroke-linejoin="round"/>
<polygon points="1526.2,646.81 1673.06,707.64 1733.89,854.5 1673.06,1001.36 1526.2,1062.19 1379.34,1001.36 1318.51,854.5 1379.34,707.64" fill="none" stroke="#ADADAD" stroke-width="1" stroke-linejoin="round"/>
<polygon points="1526.2,612.2 1697.53,683.17 1768.5,854.5 1697.53,1025.83 1526.2,1096.8 1354.87,1025.83 1283.9,854.5 1354.87,683.17" fill="none" stroke="#ADADAD" stroke-width="1" stroke-linejoin="round"/>
<line x1="1526.2" y1="854.5" x2="1526.2" y2="612.2" stroke="#000" stroke-width="1.5"/>
<line x1="1526.2" y1="854.5" x2="1697.53" y2="683.17" stroke="#000" stroke-width="1.5"/>
<line x1="1526.2" y1="854.5" x2="1768.5" y2="854.5" stroke="#000" stroke-width="1.5"/>
<line x1="1526.2" y1="854.5" x2="1697.53" y2="1025.83" stroke="#000" stroke-width="1.5"/>
<line x1="1526.2" y1="854.5" x2="1526.2" y2="1096.8" stroke="#000" stroke-width="1.5"/>
<line x1="1526.2" y1="854.5" x2="1354.87" y2="1025.83" stroke="#000" stroke-width="1.5"/>
<line x1="1526.2" y1="854.5" x2="1283.9" y2="854.5" stroke="#000" stroke-width="1.5"/>
<line x1="1526.2" y1="854.5" x2="1354.87" y2="683.17" stroke="#000" stroke-width="1.5"/>
<polygon points="1526.2,754.6 1603.27,777.43 1636.8,854.5 1595.5,923.8 1526.2,957.7 1443.33,937.37 1423.2,854.5 1450.89,779.19" fill="none" stroke="#0000FF" stroke-width="2.5" stroke-linejoin="round" stroke-linejoin="miter"/>
<polygon points="1526.2,750.3 1599.88,780.82 1630.4,854.5 1599.88,928.18 1526.2,958.7 1452.52,928.18 1422,854.5 1452.52,780.82" fill="none" stroke="#FF0000" stroke-width="3.2" stroke-linejoin="round" stroke-linejoin="miter"/>
<polygon points="1526.2,763.7 1606.67,774.03 1646.7,854.5 1594.58,922.88 1526.2,957.7 1414.55,966.15 1424,854.5 1449.2,777.5" fill="none" stroke="#00AA00" stroke-width="3.8" stroke-linejoin="round" stroke-linejoin="miter"/>
<text x="1519.5" y="620.9" font-size="26" text-anchor="end">3.0</text>
<text x="1519.5" y="690.2" font-size="26" text-anchor="end">2.0</text>
<text x="1519.5" y="750.4" font-size="26" text-anchor="end">1.0</text>
<text x="1519.5" y="837" font-size="26" text-anchor="end">0</text>
<text x="1457.9" y="580.8" font-size="25.8">Delay time</text>
<text x="1699" y="649.6" font-size="25.8">Correlation</text>
<text x="1699" y="680.4" font-size="25.8">dimension</text>
<text x="1779.5" y="842.4" font-size="25.8">Embedding</text>
<text x="1780" y="874" font-size="25.8">dimension</text>
<text x="1681.1" y="1057.2" font-size="25.8">CO complexity</text>
<text x="1447" y="1124.8" font-size="25.8">Comentropy</text>
<text x="1230.1" y="1070.2" font-size="25.8">Approximate</text>
<text x="1229.3" y="1100.9" font-size="25.8">entropy</text>
<text x="1176.1" y="844.3" font-size="25.8">Spectral</text>
<text x="1175.8" y="875.2" font-size="25.8">entropy</text>
<text x="1215.1" y="665.5" font-size="25.8">Box dimension</text>
<text x="1695.2" y="506.4" font-size="26.1">Control</text>
<text x="1695.5" y="536.8" font-size="26.1">NE 80 nM</text>
<text x="1695.4" y="567.1" font-size="26.1">NE 400 nM</text>
</svg>
</body></html>
